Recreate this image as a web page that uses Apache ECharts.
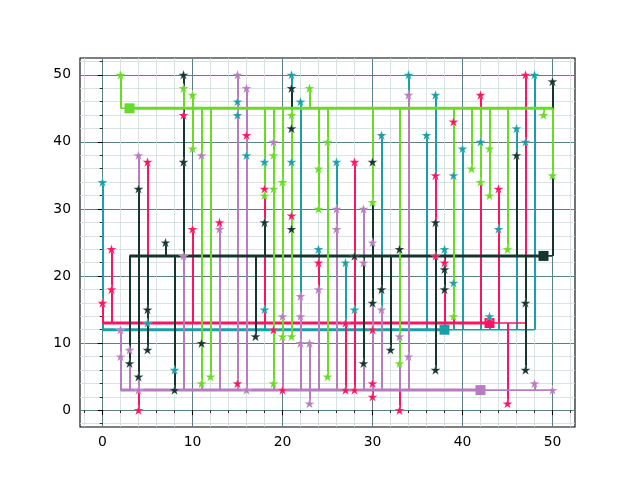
<!DOCTYPE html>
<html>
<head>
<meta charset="utf-8">
<script src="https://cdn.jsdelivr.net/npm/echarts@6/dist/echarts.min.js"></script>
<style>html,body{margin:0;padding:0;background:#fff;}#chart{width:640px;height:480px;}</style>
</head>
<body>
<div id="chart"></div>
<script>
// ---- data ----
const majorTicks = [0, 10, 20, 30, 40, 50];
const minorTicks = [-2,0,2,4,6,8,10,12,14,16,18,20,22,24,26,28,30,32,34,36,38,40,42,44,46,48,50,52];

const tealX = [0,5,8,15,15,16,18,18,21,21,22,24,26,27,28,31,34,36,37,38,39,39,40,42,43,44,46,47,48];
const tealY = [34,13,6,46,44,38,37,15,50,37,46,24,37,22,15,41,50,41,47,24,35,19,39,40,14,27,42,40,50];
const tealBottom = 12, tealSquareX = 38, tealThick = [0, 38];

const redX = [0,1,1,4,5,9,10,13,15,16,18,19,20,21,24,27,27,28,28,30,30,30,33,37,37,38,39,42,44,45,47];
const redY = [16,24,18,0,37,44,27,28,4,41,33,12,3,29,22,13,3,37,3,12,4,2,0,35,23,22,43,47,33,1,50];
const redBottom = 13, redSquareX = 43, redThick = [0, 43];

const purpleX = [2,2,3,4,4,9,11,13,15,16,16,19,20,22,22,22,23,23,24,26,26,29,29,30,31,33,34,34,48,50];
const purpleY = [12,8,9,38,3,23,38,27,50,48,3,40,14,17,14,10,10,1,18,30,27,30,22,25,15,11,47,8,4,3];
const purpleBottom = 3, purpleSquareX = 42, purpleThick = [2, 42];

const darkX = [3,4,4,5,5,7,8,9,9,11,17,18,21,21,21,28,29,30,30,31,32,33,37,37,38,38,46,47,47,50];
const darkY = [7,33,5,15,9,25,3,50,37,10,11,28,48,42,27,23,7,37,16,18,9,24,28,6,21,18,38,16,6,49];
const darkBottom = 23, darkSquareX = 49, darkThick = [3, 49];

const greenX = [2,9,10,10,11,12,18,19,19,19,20,20,21,21,23,24,24,25,25,30,33,39,41,42,43,43,45,49,50];
const greenY = [50,48,47,39,4,5,32,38,33,4,34,11,44,11,48,36,30,40,5,31,7,14,36,34,39,32,24,44,35];
const greenBottom = 45, greenSquareX = 3, greenThick = [3, 50];

// ---- styling ----
const groups = [
  {x: tealX, y: tealY, bottom: tealBottom, sq: tealSquareX, thick: tealThick, color: '#1a9fa8'},
  {x: redX, y: redY, bottom: redBottom, sq: redSquareX, thick: redThick, color: '#fa1461'},
  {x: purpleX, y: purpleY, bottom: purpleBottom, sq: purpleSquareX, thick: purpleThick, color: '#b77cc0'},
  {x: darkX, y: darkY, bottom: darkBottom, sq: darkSquareX, thick: darkThick, color: '#17352f'},
  {x: greenX, y: greenY, bottom: greenBottom, sq: greenSquareX, thick: greenThick, color: '#66dd22'}
];
const starPath = 'path://M0,-1L0.2245,-0.309L0.951,-0.309L0.363,0.118L0.588,0.809L0,0.382L-0.588,0.809L-0.363,0.118L-0.951,-0.309L-0.2245,-0.309Z';
const majorGrid = '#5a7f87';
const minorGrid = '#cfdcdc';
const font = 'DejaVu Sans';

function mkAxis(isX, major) {
  const base = {
    type: 'value', min: -2.5, max: 52.5,
    position: isX ? 'bottom' : 'left',
    axisLine: {show: false},
  };
  if (!major) {
    return Object.assign(base, {
      axisTick: {show: true, customValues: minorTicks, length: 2.8, lineStyle: {color: '#000', width: 0.8}},
      axisLabel: {show: false},
      splitLine: {show: true, lineStyle: {color: minorGrid, width: 0.8}}
    });
  }
  return Object.assign(base, {
    axisTick: {show: true, customValues: majorTicks, length: 4.9, lineStyle: {color: '#000', width: 1.1}},
    axisLabel: {show: true, customValues: majorTicks, margin: isX ? 8 : 9, fontSize: 13.9, color: '#000', fontFamily: font},
    splitLine: {show: true, lineStyle: {color: majorGrid, width: 1}}
  });
}

const series = [];
groups.forEach((g, k) => {
  const pts = g.x.map((v, i) => [v, g.y[i]]);
  const bottom = g.bottom;
  const zl = 2 + k, zm = 10 + k;
  series.push({
    type: 'custom', z: zl, silent: true,
    data: pts, encode: {x: 0, y: 1},
    renderItem: function (params, api) {
      const xv = api.value(0), yv = api.value(1);
      const p0 = api.coord([xv, bottom]);
      const p1 = api.coord([xv, yv]);
      const px = Math.round(p0[0]);
      return {type: 'line', shape: {x1: px, y1: p0[1], x2: px, y2: p1[1]},
              style: {stroke: g.color, lineWidth: 2}};
    }
  });
  const minX = Math.min.apply(null, g.x), maxX = Math.max.apply(null, g.x);
  series.push({
    type: 'line', z: zl, data: [[minX, bottom], [maxX, bottom]], showSymbol: false, symbol: 'none',
    lineStyle: {color: g.color, width: 1.6}
  });
  series.push({
    type: 'line', z: zl, data: [[g.thick[0], bottom], [g.thick[1], bottom]], showSymbol: false, symbol: 'none',
    lineStyle: {color: g.color, width: 3}
  });
  series.push({
    type: 'scatter', z: zl, data: [[g.sq, bottom]], symbol: 'rect', symbolSize: 10,
    itemStyle: {color: g.color, opacity: 1}
  });
  series.push({
    type: 'scatter', z: zm, data: pts, symbol: starPath, symbolKeepAspect: true, symbolSize: 10,
    itemStyle: {color: g.color, opacity: 1, borderColor: 'rgba(255,255,255,0.35)', borderWidth: 0.6}
  });
});

const chart = echarts.init(document.getElementById('chart'), null, {renderer: 'canvas'});
chart.setOption({
  animation: false,
  grid: {left: 80, right: 65, top: 58, bottom: 53, show: true, borderColor: '#000', borderWidth: 1.1, backgroundColor: 'transparent'},
  xAxis: [mkAxis(true, false), mkAxis(true, true)],
  yAxis: [mkAxis(false, false), mkAxis(false, true)],
  series: series
});
</script>
</body>
</html>
